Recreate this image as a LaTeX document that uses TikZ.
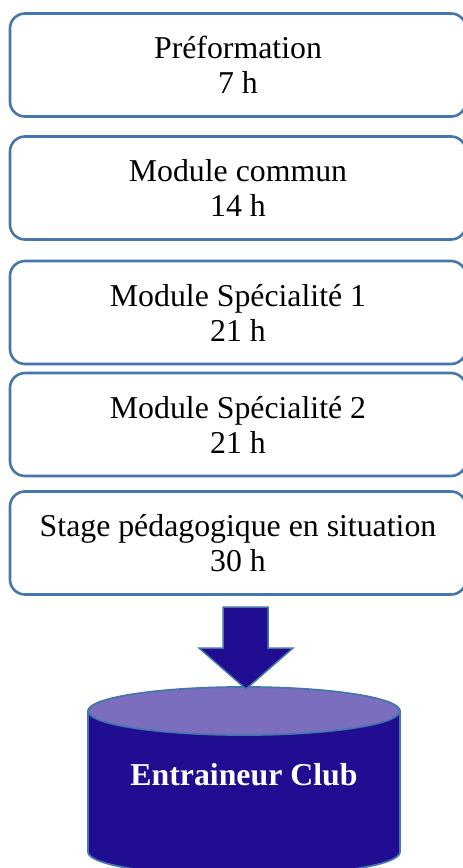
\documentclass[tikz,border=0pt]{standalone}
\usepackage{fontspec}
\setmainfont{Liberation Serif}
\definecolor{boxblue}{RGB}{70,118,172}
\definecolor{navy}{RGB}{33,13,145}
\definecolor{lilac}{RGB}{123,110,190}
\tikzset{
  stepbox/.style={draw=boxblue, line width=2.6pt, rounded corners=15pt, fill=white,
    minimum width=456pt, minimum height=103pt, align=center, inner sep=0pt,
    font=\fontsize{31.8}{35}\selectfont},
  blockarrow/.style={fill=navy, draw=boxblue, line width=1.5pt, line join=miter},
  cyl/.style={fill=navy, draw=boxblue, line width=1.8pt},
  cyltop/.style={fill=lilac, draw=boxblue, line width=1.8pt}
}
\begin{document}
\begin{tikzpicture}[x=1pt,y=-1pt]
\useasboundingbox (0,0) rectangle (463,868);
\node[stepbox] (b1) at (238,65) {Préformation\\7 h};
\node[stepbox] (b2) at (238,188) {Module commun\\14 h};
\node[stepbox] (b3) at (238,312.5) {Module Spécialité 1\\21 h};
\node[stepbox] (b4) at (238,424.5) {Module Spécialité 2\\21 h};
\node[stepbox] (b5) at (238,543) {Stage pédagogique en situation\\30 h};
% cylinder
\path[cyl] (88,711) -- (88,852) arc[start angle=180, end angle=0, x radius=156, y radius=24] -- (400,711) -- cycle;
\path[cyltop] (244,711) ellipse[x radius=156, y radius=24];
\node[font=\fontsize{31.8}{35}\selectfont\bfseries, text=white, anchor=base, inner sep=0pt] (ec) at (244,785) {Entraineur Club};
% block arrow
\coordinate (tip) at (246,689);
\path[blockarrow] (223,607) -- (268,607) -- (268,648) -- (293,648) -- (tip) -- (199,648) -- (223,648) -- cycle;
\end{tikzpicture}
\end{document}
